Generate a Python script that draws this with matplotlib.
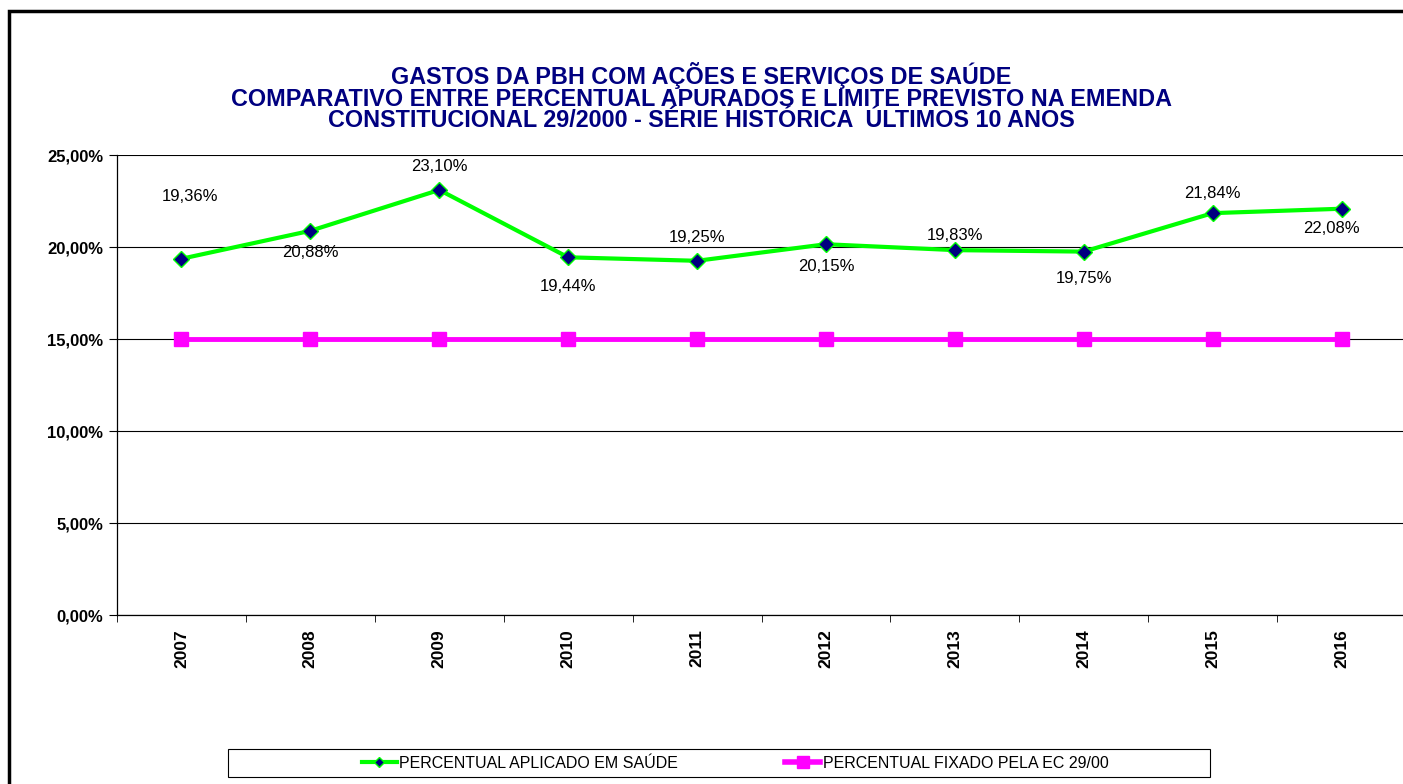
import matplotlib
matplotlib.use("Agg")
import matplotlib.pyplot as plt
from matplotlib.patches import Rectangle
from matplotlib.lines import Line2D
import numpy as np

years = ["2007", "2008", "2009", "2010", "2011", "2012", "2013", "2014", "2015", "2016"]
aplicado = [19.36, 20.88, 23.10, 19.44, 19.25, 20.15, 19.83, 19.75, 21.84, 22.08]
fixado = [15.0] * 10
# label offsets in pixels (above / below the point)
label_offsets = [(9, 62), (0, -22), (0, 23), (0, -29), (0, 23),
                 (0, -22), (0, 15), (0, -27), (0, 20), (-10, -20)]

title = ("GASTOS DA PBH COM AÇÕES E SERVIÇOS DE SAÚDE\n"
         "COMPARATIVO ENTRE PERCENTUAL APURADOS E LIMITE PREVISTO NA EMENDA\n"
         "CONSTITUCIONAL 29/2000 - SÉRIE HISTÓRICA  ÚLTIMOS 10 ANOS")

def pct(v):
    return ("%.2f%%" % v).replace(".", ",")

W, H = 1403, 784
plt.rcParams['font.family'] = ['Liberation Sans', 'DejaVu Sans']
fig = plt.figure(figsize=(W / 100, H / 100), dpi=100)

# outer frame
fig.patches.append(Rectangle((9 / W, -0.05), 1.2, 1 - 11 / H + 0.05,
                             transform=fig.transFigure, fill=False,
                             lw=2.5, ec="black"))

ax = fig.add_axes([117 / W, 1 - 615 / H, (1406 - 117) / W, (615 - 155) / H])
x = np.arange(len(years))

ax.set_xlim(-0.5, len(years) - 0.5)
ax.set_ylim(0, 25)
yt = np.arange(0, 26, 5)
ax.set_yticks(yt)
ax.set_yticklabels([pct(v) for v in yt], fontweight="bold", fontsize=12)
ax.yaxis.grid(True, color="black", lw=0.8)
ax.set_axisbelow(True)
ax.set_xticks(x)
ax.set_xticklabels(years, rotation=90, fontweight="bold", fontsize=12.5)
ax.tick_params(axis="x", length=0, pad=10)
ax.set_xticks(np.arange(-0.5, len(years), 1), minor=True)
ax.tick_params(axis="x", which="minor", length=5, direction="out")
ax.tick_params(axis="y", length=6, direction="out", pad=4)
for s in ["top", "right"]:
    ax.spines[s].set_visible(False)
ax.spines["left"].set_lw(0.9)
ax.spines["bottom"].set_lw(0.9)

ax.plot(x, fixado, color="#ff00ff", lw=3.5, marker="s", ms=10,
        mfc="#ff00ff", mec="#ff00ff", zorder=3)
ax.plot(x, aplicado, color="#00ff00", lw=3, marker="D", ms=8,
        mfc="#000080", mec="#00ff00", mew=1, zorder=4)

for xi, v, off in zip(x, aplicado, label_offsets):
    ax.annotate(pct(v), (xi, v), xytext=off,
                textcoords="offset pixels", ha="center", va="center",
                fontsize=12, color="black")

fig.text(0.5, 1 - 97 / H, title, ha="center", va="center", color="#000080",
         fontsize=16.8, fontweight="bold", linespacing=0.92)

# legend box
fig.patches.append(Rectangle((228 / W, 1 - 777 / H), (1210 - 228) / W, 28 / H,
                             transform=fig.transFigure, fill=False,
                             lw=0.8, ec="black"))
handles = [
    Line2D([], [], color="#00ff00", lw=3, marker="D", ms=5, mfc="#000080", mec="#00ff00"),
    Line2D([], [], color="#ff00ff", lw=4, marker="s", ms=8, mfc="#ff00ff", mec="#ff00ff"),
]
leg = fig.legend(handles, ["PERCENTUAL APLICADO EM SAÚDE", "PERCENTUAL FIXADO PELA EC 29/00"],
                 loc="center", bbox_to_anchor=(735 / W, 1 - 763 / H),
                 ncol=2, frameon=False, handlelength=2.2, handletextpad=0.15,
                 borderaxespad=0, borderpad=0, columnspacing=6.7,
                 prop={"size": 11.5})

fig.savefig("out.png", dpi=100)
